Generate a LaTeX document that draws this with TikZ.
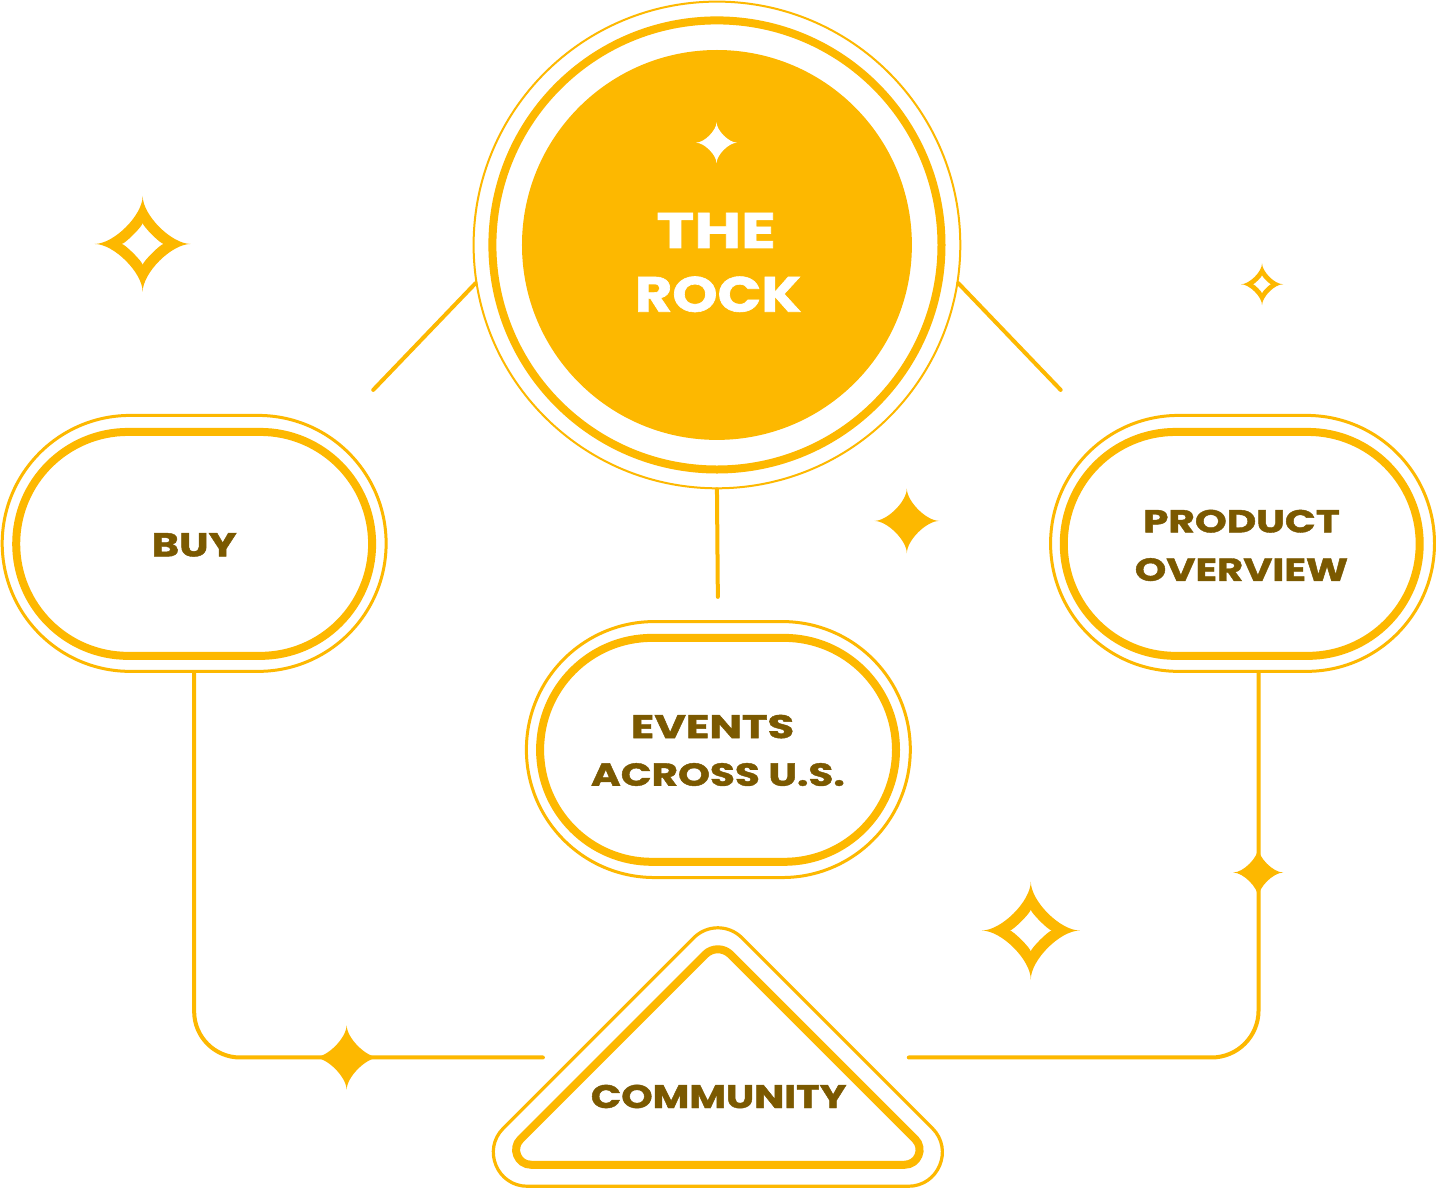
\documentclass[tikz,border=0pt]{standalone}
\usepackage{fontspec}
\setmainfont{Poppins}[BoldFeatures={FakeBold=1.2}]
\usepackage{graphicx}
\definecolor{yel}{HTML}{FDB800}
\definecolor{brn}{HTML}{7B5900}
\newcommand\sparkpath[2]{(0,-#1) .. controls (0,{-#2*#1}) and ({#2*#1},0) .. (#1,0) .. controls ({#2*#1},0) and (0,{#2*#1}) .. (0,#1) .. controls (0,{#2*#1}) and ({-#2*#1},0) .. (-#1,0) .. controls ({-#2*#1},0) and (0,{-#2*#1}) .. (0,-#1) -- cycle}
\begin{document}
\begin{tikzpicture}[x=0.5pt,y=-0.5pt,
  conn/.style={draw=yel, line width=2pt, line cap=round},
  thinline/.style={draw=yel, line width=1.5pt},
  thickline/.style={draw=yel, line width=4pt},
  pillout/.style={rectangle, thinline, minimum width=192pt, minimum height=128pt, rounded corners=64pt, inner sep=0pt},
  pillin/.style={rectangle, thickline, minimum width=178pt, minimum height=112pt, rounded corners=56pt, inner sep=0pt},
  lbl/.style={inner sep=0pt, text=brn, font=\bfseries},
  wlbl/.style={inner sep=0pt, text=white, font=\bfseries}]
\fill[white] (0,0) rectangle (1436,1190);
% central circle
\node[circle, fill=yel, minimum size=195pt, inner sep=0pt] (rock) at (717.1,245) {};
\node[circle, thickline, minimum size=224.6pt, inner sep=0pt] (rockring) at (rock) {};
\node[circle, draw=yel, line width=1pt, minimum size=243.4pt, inner sep=0pt] (rockout) at (rock) {};
\node[wlbl] (thetxt) at (716.3,230.5) {\resizebox{59.65pt}{17.5pt}{THE}};
\node[wlbl] (rocktxt) at (718.3,294.3) {\resizebox{83.35pt}{17.65pt}{ROCK}};
% pills
\node[pillout] (buy) at (194.2,543.5) {};
\node[pillin] (buyin) at (194.2,544) {};
\node[lbl] (buytxt) at (194.2,545) {\resizebox{42.5pt}{11.65pt}{BUY}};
\node[pillout] (prod) at (1242.8,543.5) {};
\node[pillin] (prodin) at (1242,544) {};
\node[lbl] (prodtxt1) at (1241.7,521.3) {\resizebox{98.35pt}{11.35pt}{PRODUCT}};
\node[lbl] (prodtxt2) at (1241.7,569.7) {\resizebox{106.65pt}{11.35pt}{OVERVIEW}};
\node[pillout] (events) at (718.5,749.7) {};
\node[pillin] (eventsin) at (718.2,750) {};
\node[lbl] (evtxt1) at (712.7,726.7) {\resizebox{81.65pt}{11.65pt}{EVENTS}};
\node[lbl] (evtxt2) at (718,774.7) {\resizebox{127pt}{11.35pt}{ACROSS U.S.}};
% triangle
\draw[yel, line width=1.6pt] (503.44,1128.46) -- (693.96,937.94) .. controls (707.24,924.66) and (728.76,924.66) .. (742.04,937.94) -- (932.56,1128.46) .. controls (953.98,1149.88) and (938.82,1186.5) .. (908.52,1186.5) -- (527.48,1186.5) .. controls (497.18,1186.5) and (482.02,1149.88) .. (503.44,1128.46) -- cycle;
\draw[yel, line width=4pt] (520.61,1139.39) -- (705.27,954.73) .. controls (712.30,947.70) and (723.70,947.70) .. (730.73,954.73) -- (915.39,1139.39) .. controls (924.84,1148.84) and (918.16,1165) .. (904.79,1165) -- (531.21,1165) .. controls (517.84,1165) and (511.16,1148.84) .. (520.61,1139.39) -- cycle;
\node[lbl] (commtxt) at (718.8,1096.7) {\resizebox{127.85pt}{11.65pt}{COMMUNITY}};
% connectors
\coordinate (lend) at (373.3,390);
\coordinate (rend) at (1060.9,390);
\coordinate (vend) at (718,597);
\coordinate (cl) at (543,1057.7);
\coordinate (cr) at (909,1057.7);
\draw[conn] (rockout.189.9) -- (lend);
\draw[conn] (rockout.-9.9) -- (rend);
\draw[conn] (rockout.south) -- (vend);
\draw[conn, rounded corners=23pt] (buy.south) |- (cl);
\draw[conn, rounded corners=23.5pt] ([xshift=8pt]prod.south) |- (cr);
% sparkles
\fill[yel, shift={(346.7,1057.7)}] \sparkpath{32.5}{0.6};
\fill[yel, shift={(1258.5,872.7)}] \sparkpath{25}{0.6};
\fill[yel, shift={(907,521)}] \sparkpath{32.5}{0.6};
\fill[white, shift={(716.7,142.7)}] \sparkpath{20.5}{0.6};
\fill[yel, even odd rule, shift={(142.7,244)}] \sparkpath{48}{0.6} \sparkpath{21}{0.85};
\fill[yel, even odd rule, shift={(1031,930.7)}] \sparkpath{49}{0.6} \sparkpath{21}{0.85};
\fill[yel, even odd rule, shift={(1262.3,284.3)}] \sparkpath{21}{0.6} \sparkpath{9}{0.85};
\end{tikzpicture}
\end{document}
